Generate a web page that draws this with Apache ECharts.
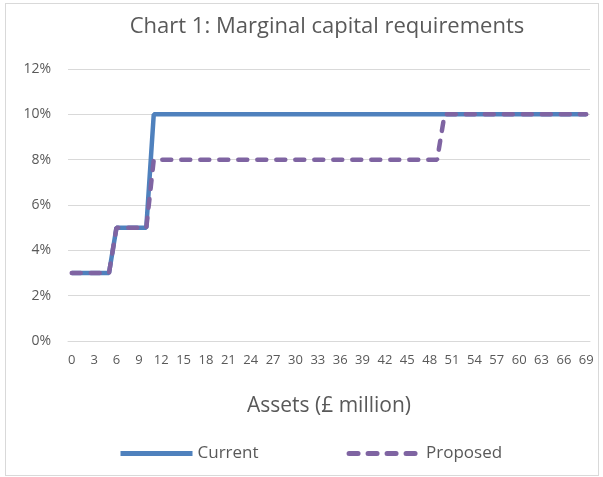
<!DOCTYPE html>
<html lang="en">
<head>
  <meta charset="UTF-8">
  <title>Chart 1</title>
  <script src="https://cdn.jsdelivr.net/npm/echarts@6/dist/echarts.min.js"></script>
  <style>
    html, body { margin: 0; padding: 0; background: #fff; }
    #frame { position: absolute; left: 5px; top: 3px; width: 592px; height: 471px; border: 1px solid #d9d9d9; }
    #main { width: 603px; height: 477px; position: absolute; left: 0; top: 0; }
  </style>
</head>
<body>
<div id="frame"></div>
<div id="main"></div>
<script>
  // assets in £ million, 0..69
  var assets = [];
  for (var i = 0; i <= 69; i++) assets.push(String(i));

  // marginal capital requirement (%) per asset level
  var current = [
    3, 3, 3, 3, 3, 3, 5, 5, 5, 5, 5, 10, 10, 10, 10, 10, 10, 10, 10, 10,
    10, 10, 10, 10, 10, 10, 10, 10, 10, 10, 10, 10, 10, 10, 10, 10, 10, 10, 10, 10,
    10, 10, 10, 10, 10, 10, 10, 10, 10, 10, 10, 10, 10, 10, 10, 10, 10, 10, 10, 10,
    10, 10, 10, 10, 10, 10, 10, 10, 10, 10
  ];
  var proposed = [
    3, 3, 3, 3, 3, 3, 5, 5, 5, 5, 5, 8, 8, 8, 8, 8, 8, 8, 8, 8,
    8, 8, 8, 8, 8, 8, 8, 8, 8, 8, 8, 8, 8, 8, 8, 8, 8, 8, 8, 8,
    8, 8, 8, 8, 8, 8, 8, 8, 8, 8, 10, 10, 10, 10, 10, 10, 10, 10, 10, 10,
    10, 10, 10, 10, 10, 10, 10, 10, 10, 10
  ];

  var font = 'Open Sans';
  var grey = '#595959';

  var myChart = echarts.init(document.getElementById('main'), null, {renderer: 'canvas'});

  var option = {
    animation: false,
    title: {
      text: 'Chart 1: Marginal capital requirements',
      left: 322,
      textAlign: 'center',
      top: 11,
      textStyle: { fontFamily: font, fontSize: 22, fontWeight: 'normal', color: grey }
    },
    legend: {
      bottom: 10,
      left: 113,
      itemWidth: 72,
      itemHeight: 12,
      itemGap: 88,
      itemStyle: { opacity: 0 },
      lineStyle: { width: 5 },
      textStyle: { fontFamily: font, fontSize: 17, color: grey },
      data: ['Current', 'Proposed']
    },
    grid: { left: 68, right: 13, top: 69, bottom: 136, containLabel: false },
    xAxis: {
      type: 'category',
      data: assets,
      boundaryGap: true,
      name: 'Assets (£ million)',
      nameLocation: 'middle',
      nameGap: 55,
      nameTextStyle: { fontFamily: font, fontSize: 21, color: grey },
      axisLine: { lineStyle: { color: '#d9d9d9' } },
      axisTick: { show: false },
      axisLabel: { interval: 2, fontFamily: font, fontSize: 13, color: grey, margin: 13 }
    },
    yAxis: {
      type: 'value',
      min: 0,
      max: 12,
      interval: 2,
      axisLine: { show: false },
      axisTick: { show: false },
      splitLine: { lineStyle: { color: '#d9d9d9' } },
      axisLabel: { formatter: '{value}%', fontFamily: font, fontSize: 14, color: grey, margin: 17 }
    },
    series: [
      {
        name: 'Current',
        type: 'line',
        data: current,
        symbol: 'none',
        lineStyle: { color: '#4f81bd', width: 4.5 },
        itemStyle: { color: '#4f81bd' }
      },
      {
        name: 'Proposed',
        type: 'line',
        data: proposed,
        symbol: 'none',
        lineStyle: { color: '#7f64a2', width: 4.5, type: [9, 10], cap: 'round' },
        itemStyle: { color: '#7f64a2' }
      }
    ]
  };

  myChart.setOption(option);
</script>
</body>
</html>
